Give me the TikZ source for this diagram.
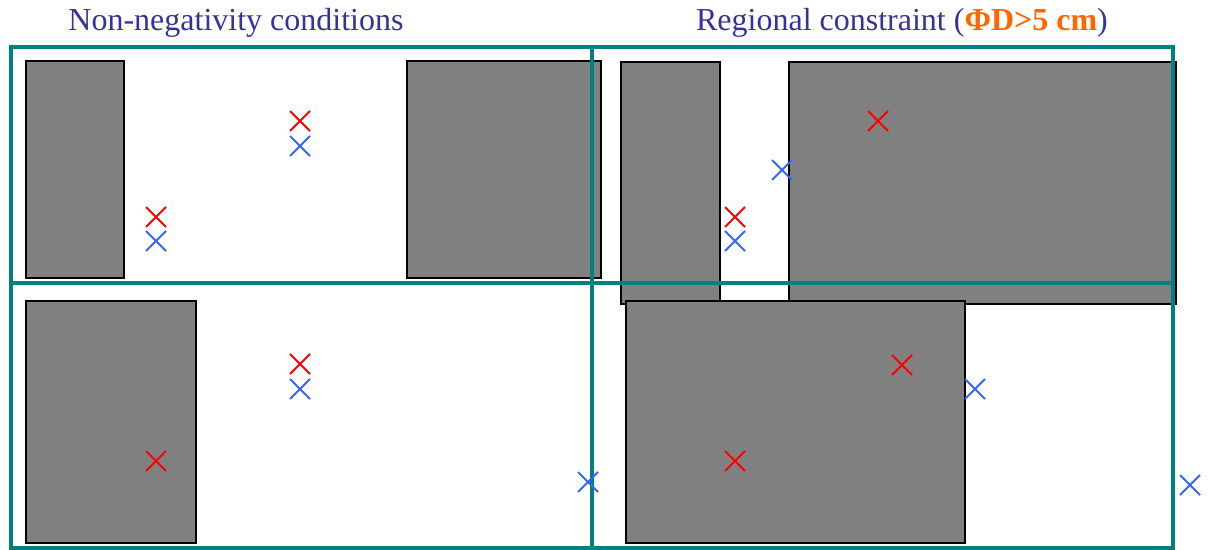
\documentclass[tikz,border=0pt]{standalone}
\usepackage{fontspec}
\setmainfont{Liberation Serif}
\usetikzlibrary{shapes.misc}
\definecolor{teal}{HTML}{008080}
\definecolor{titleblue}{HTML}{333399}
\definecolor{orange}{HTML}{FF6600}
\definecolor{markblue}{HTML}{3366FF}
\definecolor{markred}{HTML}{FF0000}

\begin{document}
\begin{tikzpicture}[x=0.5pt, y=-0.5pt,
    block/.style={fill={rgb,255:red,128;green,128;blue,128}, draw=black, line width=1pt},
    frame/.style={draw=teal, line width=1.75pt},
    redx/.style={cross out, draw=markred, line width=1pt, minimum size=9pt, inner sep=0pt},
    bluex/.style={cross out, draw=markblue, line width=1pt, minimum size=9pt, inner sep=0pt},
    heading/.style={font=\fontsize{16}{19}\selectfont, text=titleblue, inner sep=0pt}]
  \useasboundingbox (0,0) rectangle (1208,550);

  % Titles
  \node[heading] (left title) at (236,23) {Non-negativity conditions};
  \node[heading] (right title) at (902,23) {Regional constraint (\textcolor{orange}{\textbf{ΦD>5 cm}})};

  % Blocks
  \draw[block] (26,61) rectangle (124,278);
  \draw[block] (407,61) rectangle (601,278);
  \draw[block] (621,62) rectangle (720,304);
  \draw[block] (789,62) rectangle (1176,304);
  \draw[block] (26,301) rectangle (196,543);
  \draw[block] (626,301) rectangle (965,543);

  % Frames
  \draw[frame] (11,47) rectangle (1173,548);
  \draw[frame] (592,47) -- (592,548);
  \draw[frame] (11,283) -- (1173,283);

  % Markers
  \node[redx]  (r1) at (300,121) {};
  \node[bluex] (b1) at (300,146) {};
  \node[redx]  (r2) at (156,217) {};
  \node[bluex] (b2) at (156,241) {};
  \node[redx]  (r3) at (878,121) {};
  \node[bluex] (b3) at (782,170) {};
  \node[redx]  (r4) at (735,217) {};
  \node[bluex] (b4) at (735,241) {};
  \node[redx]  (r5) at (300,364) {};
  \node[bluex] (b5) at (300,389) {};
  \node[redx]  (r6) at (156,461) {};
  \node[bluex] (b6) at (588,482) {};
  \node[redx]  (r7) at (902,365) {};
  \node[bluex] (b7) at (975,389) {};
  \node[redx]  (r8) at (735,461) {};
  \node[bluex] (b8) at (1190,485) {};
\end{tikzpicture}
\end{document}
